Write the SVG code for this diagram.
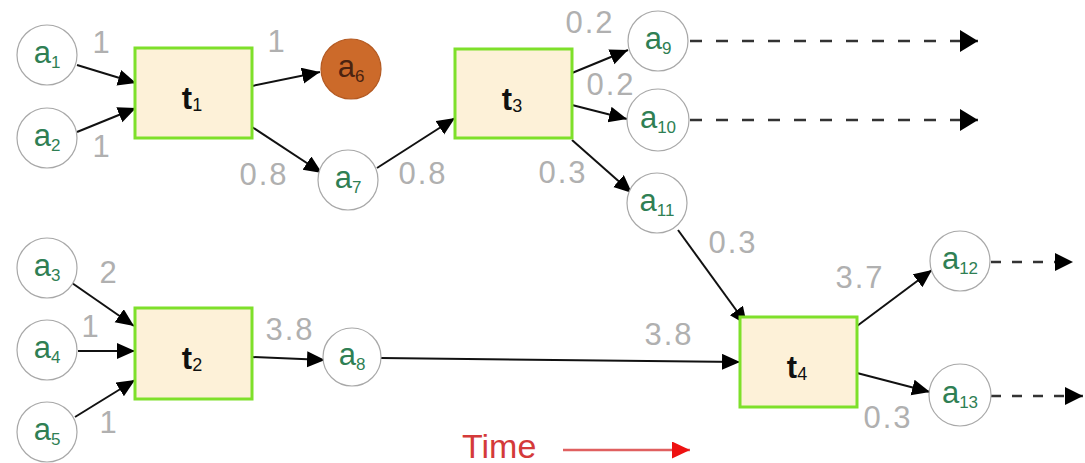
<svg xmlns="http://www.w3.org/2000/svg" width="1085" height="463" viewBox="0 0 1085 463">
<style>
.place{fill:#ffffff;stroke:#a8a8a8;stroke-width:1.2}
.rect{fill:#fdf1d8;stroke:#7ee02a;stroke-width:3}
.al{font-family:"Liberation Sans",Arial,sans-serif;font-size:31px;fill:#2f7f54;text-anchor:middle}
.al tspan.s{font-size:17px}
.tl{font-family:"Liberation Sans",Arial,sans-serif;font-size:31px;font-weight:bold;fill:#111;text-anchor:middle}
.tl tspan.s{font-size:18px;font-weight:normal}
.w{font-family:"Liberation Sans",Arial,sans-serif;font-size:31px;fill:#b0b0b0;text-anchor:middle;letter-spacing:2px}
.c{fill:none;stroke:#111;stroke-width:2}
.d{fill:none;stroke:#333;stroke-width:2.4;stroke-dasharray:12 14}
</style>
<defs>
<marker id="ah" markerUnits="userSpaceOnUse" markerWidth="20" markerHeight="18" refX="18" refY="8" orient="auto"><path d="M0,0 L18,8 L0,16 z" fill="#000"/></marker>
<marker id="dh" markerUnits="userSpaceOnUse" markerWidth="20" markerHeight="24" refX="18" refY="11" orient="auto"><path d="M0,0 L18,11 L0,22 z" fill="#000"/></marker>
<marker id="sh" markerUnits="userSpaceOnUse" markerWidth="20" markerHeight="20" refX="18" refY="9" orient="auto"><path d="M0,0 L18,9 L0,18 z" fill="#000"/></marker>
<marker id="rh" markerUnits="userSpaceOnUse" markerWidth="20" markerHeight="20" refX="18" refY="8.5" orient="auto"><path d="M0,0 L18,8.5 L0,17 z" fill="#ee1111"/></marker>
</defs>

<g id="connectors">
<line class="c" x1="77" y1="65" x2="136" y2="83" marker-end="url(#ah)"/>
<line class="c" x1="77" y1="132" x2="136" y2="108" marker-end="url(#ah)"/>
<line class="c" x1="252" y1="86" x2="320" y2="72" marker-end="url(#ah)"/>
<line class="c" x1="252" y1="127" x2="322" y2="173" marker-end="url(#ah)"/>
<line class="c" x1="377" y1="168" x2="455" y2="118" marker-end="url(#ah)"/>
<line class="c" x1="572" y1="73" x2="628" y2="50" marker-end="url(#ah)"/>
<line class="c" x1="572" y1="105" x2="627" y2="119" marker-end="url(#ah)"/>
<line class="c" x1="572" y1="140" x2="632" y2="193" marker-end="url(#ah)"/>
<line class="c" x1="678" y1="230" x2="747" y2="325" marker-end="url(#ah)"/>
<line class="c" x1="72" y1="283" x2="134" y2="326" marker-end="url(#ah)"/>
<line class="c" x1="78" y1="351" x2="135" y2="351" marker-end="url(#ah)"/>
<line class="c" x1="75" y1="417" x2="135" y2="380" marker-end="url(#ah)"/>
<line class="c" x1="252" y1="357" x2="325" y2="360" marker-end="url(#ah)"/>
<line class="c" x1="381" y1="358" x2="740" y2="362" marker-end="url(#ah)"/>
<line class="c" x1="857" y1="326" x2="932" y2="270" marker-end="url(#ah)"/>
<line class="c" x1="857" y1="373" x2="930" y2="392" marker-end="url(#ah)"/>
<line class="d" x1="690" y1="41" x2="978" y2="41" marker-end="url(#dh)"/>
<line class="d" x1="690" y1="120" x2="978" y2="120" marker-end="url(#dh)"/>
<line class="d" x1="991" y1="262" x2="1073" y2="262" style="stroke-dasharray:10 11" marker-end="url(#sh)"/>
<line class="d" x1="991" y1="396" x2="1083" y2="396" style="stroke-dasharray:10 11" marker-end="url(#sh)"/>
</g>

<g id="a1"><circle class="place" cx="47" cy="55" r="30"/><text class="al" x="47" y="63">a<tspan class="s" dy="5">1</tspan></text></g>
<g id="a2"><circle class="place" cx="47" cy="138" r="30"/><text class="al" x="47" y="146">a<tspan class="s" dy="5">2</tspan></text></g>
<g id="a3"><circle class="place" cx="47" cy="268" r="30"/><text class="al" x="47" y="276">a<tspan class="s" dy="5">3</tspan></text></g>
<g id="a4"><circle class="place" cx="47" cy="350" r="30"/><text class="al" x="47" y="358">a<tspan class="s" dy="5">4</tspan></text></g>
<g id="a5"><circle class="place" cx="47" cy="432" r="30"/><text class="al" x="47" y="440">a<tspan class="s" dy="5">5</tspan></text></g>
<g id="a6"><circle cx="351" cy="69" r="30" fill="#cc6a2a" stroke="#b45a22" stroke-width="1.2"/><text class="al" x="351" y="77" style="fill:#4a2310">a<tspan class="s" dy="5">6</tspan></text></g>
<g id="a7"><circle class="place" cx="348" cy="180" r="30"/><text class="al" x="348" y="188">a<tspan class="s" dy="5">7</tspan></text></g>
<g id="a8"><circle class="place" cx="352" cy="357" r="29"/><text class="al" x="352" y="365">a<tspan class="s" dy="5">8</tspan></text></g>
<g id="a9"><circle class="place" cx="658" cy="41" r="30"/><text class="al" x="658" y="49">a<tspan class="s" dy="5">9</tspan></text></g>
<g id="a10"><circle class="place" cx="658" cy="120" r="31"/><text class="al" x="658" y="128">a<tspan class="s" dy="5">10</tspan></text></g>
<g id="a11"><circle class="place" cx="657" cy="203" r="30"/><text class="al" x="657" y="211">a<tspan class="s" dy="5">11</tspan></text></g>
<g id="a12"><circle class="place" cx="960" cy="261" r="30"/><text class="al" x="960" y="269">a<tspan class="s" dy="5">12</tspan></text></g>
<g id="a13"><circle class="place" cx="960" cy="395" r="31"/><text class="al" x="960" y="403">a<tspan class="s" dy="5">13</tspan></text></g>

<g id="t1"><rect class="rect" x="135" y="48" width="117" height="90"/><text class="tl" x="192" y="109">t<tspan class="s" dy="2">1</tspan></text></g>
<g id="t2"><rect class="rect" x="135" y="308" width="117" height="91"/><text class="tl" x="192" y="369">t<tspan class="s" dy="2">2</tspan></text></g>
<g id="t3"><rect class="rect" x="455" y="49" width="117" height="89"/><text class="tl" x="512" y="110">t<tspan class="s" dy="2">3</tspan></text></g>
<g id="t4"><rect class="rect" x="740" y="317" width="117" height="90"/><text class="tl" x="797" y="378">t<tspan class="s" dy="2">4</tspan></text></g>

<g id="weights">
<text class="w" x="102" y="53">1</text>
<text class="w" x="102" y="157">1</text>
<text class="w" x="277" y="52">1</text>
<text class="w" x="264" y="185">0.8</text>
<text class="w" x="423" y="184">0.8</text>
<text class="w" x="590" y="33">0.2</text>
<text class="w" x="611" y="95">0.2</text>
<text class="w" x="563" y="183">0.3</text>
<text class="w" x="733" y="253">0.3</text>
<text class="w" x="109" y="283">2</text>
<text class="w" x="91" y="337">1</text>
<text class="w" x="109" y="433">1</text>
<text class="w" x="290" y="340">3.8</text>
<text class="w" x="669" y="345">3.8</text>
<text class="w" x="860" y="288">3.7</text>
<text class="w" x="888" y="428">0.3</text>
</g>

<g id="time">
<text x="462" y="458" font-family="Liberation Sans, Arial, sans-serif" font-size="34" fill="#d43a3a">Time</text>
<line x1="563" y1="450" x2="690" y2="450" stroke="#e06060" stroke-width="2.5" marker-end="url(#rh)"/>
</g>
</svg>
